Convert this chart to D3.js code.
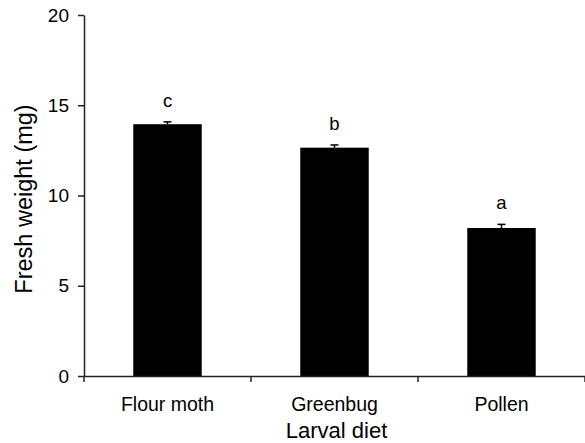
<!DOCTYPE html>
<html>
<head>
<meta charset="utf-8">
<script src="https://cdn.jsdelivr.net/npm/d3@7"></script>
<style>
  html, body { margin: 0; padding: 0; background: #fff; }
  svg { display: block; font-family: "Liberation Sans", Arial, sans-serif; }
</style>
</head>
<body>
<svg id="chart" width="585" height="443"></svg>
<script>
const categories = ["Flour moth", "Greenbug", "Pollen"];
const means = [13.95, 12.65, 8.2];
const errors = [0.13, 0.15, 0.2];
const letters = ["c", "b", "a"];
const yTicks = [0, 5, 10, 15, 20];

(function () {
const svg = d3.select("#chart");
const mLeft = 84, mRight = 585, mTop = 15, mBottom = 376;

const x = d3.scaleBand().domain(categories).range([mLeft, mRight]).padding(0);
const y = d3.scaleLinear().domain([0, 20]).range([mBottom, mTop]);
const barW = x.bandwidth() * 0.41;

// bars
svg.selectAll("rect.bar").data(categories).join("rect")
  .attr("class", "bar")
  .attr("x", (d) => x(d) + x.bandwidth() / 2 - barW / 2)
  .attr("width", barW)
  .attr("y", (d, i) => y(means[i]))
  .attr("height", (d, i) => y(0) - y(means[i]))
  .attr("fill", "#000");

// error bars (upper only)
const eb = svg.append("g").attr("stroke", "#000").attr("stroke-width", 1.5);
categories.forEach((c, i) => {
  const cx = x(c) + x.bandwidth() / 2;
  eb.append("line").attr("x1", cx).attr("x2", cx).attr("y1", y(means[i])).attr("y2", y(means[i] + errors[i]));
  eb.append("line").attr("x1", cx - 4).attr("x2", cx + 4).attr("y1", y(means[i] + errors[i])).attr("y2", y(means[i] + errors[i]));
});

// significance letters
svg.selectAll("text.letter").data(categories).join("text")
  .attr("class", "letter")
  .attr("x", (d) => x(d) + x.bandwidth() / 2)
  .attr("y", (d, i) => y(means[i] + errors[i]) - 15)
  .attr("text-anchor", "middle")
  .attr("font-size", 18.5)
  .attr("fill", "#000")
  .text((d, i) => letters[i]);

// y axis
const yAxis = svg.append("g").attr("transform", `translate(${mLeft},0)`)
  .call(d3.axisLeft(y).tickValues(yTicks).tickSize(6).tickPadding(9).tickSizeOuter(0));
yAxis.select(".domain").attr("stroke", "#222").attr("stroke-width", 1.5);
yAxis.selectAll(".tick line").attr("stroke", "#222").attr("stroke-width", 1.5);
yAxis.selectAll(".tick text").attr("font-size", 19).attr("fill", "#000")
  .attr("font-family", "Liberation Sans, Arial, sans-serif");

// x axis
const xAxis = svg.append("g").attr("transform", `translate(0,${mBottom})`)
  .call(d3.axisBottom(x).tickSize(0).tickPadding(21).tickSizeOuter(0));
xAxis.select(".domain").attr("stroke", "#222").attr("stroke-width", 1.5);
xAxis.selectAll(".tick text").attr("font-size", 19.5).attr("fill", "#000")
  .attr("font-family", "Liberation Sans, Arial, sans-serif");
// x tick marks at band boundaries
const bounds = categories.map((c) => x(c)).concat([x(categories[categories.length - 1]) + x.bandwidth()]);
xAxis.selectAll("line.bound").data(bounds).join("line")
  .attr("class", "bound")
  .attr("x1", (d) => d).attr("x2", (d) => d)
  .attr("y1", 0).attr("y2", 6)
  .attr("stroke", "#222").attr("stroke-width", 1.5);

// axis titles
svg.append("text")
  .attr("x", (mLeft + mRight) / 2 + 2)
  .attr("y", 437.5)
  .attr("text-anchor", "middle")
  .attr("font-size", 22)
  .attr("fill", "#000")
  .text("Larval diet");

svg.append("text")
  .attr("transform", `translate(32,199) rotate(-90)`)
  .attr("text-anchor", "middle")
  .attr("font-size", 23.5)
  .attr("fill", "#000")
  .text("Fresh weight (mg)");
})();
</script>
</body>
</html>
